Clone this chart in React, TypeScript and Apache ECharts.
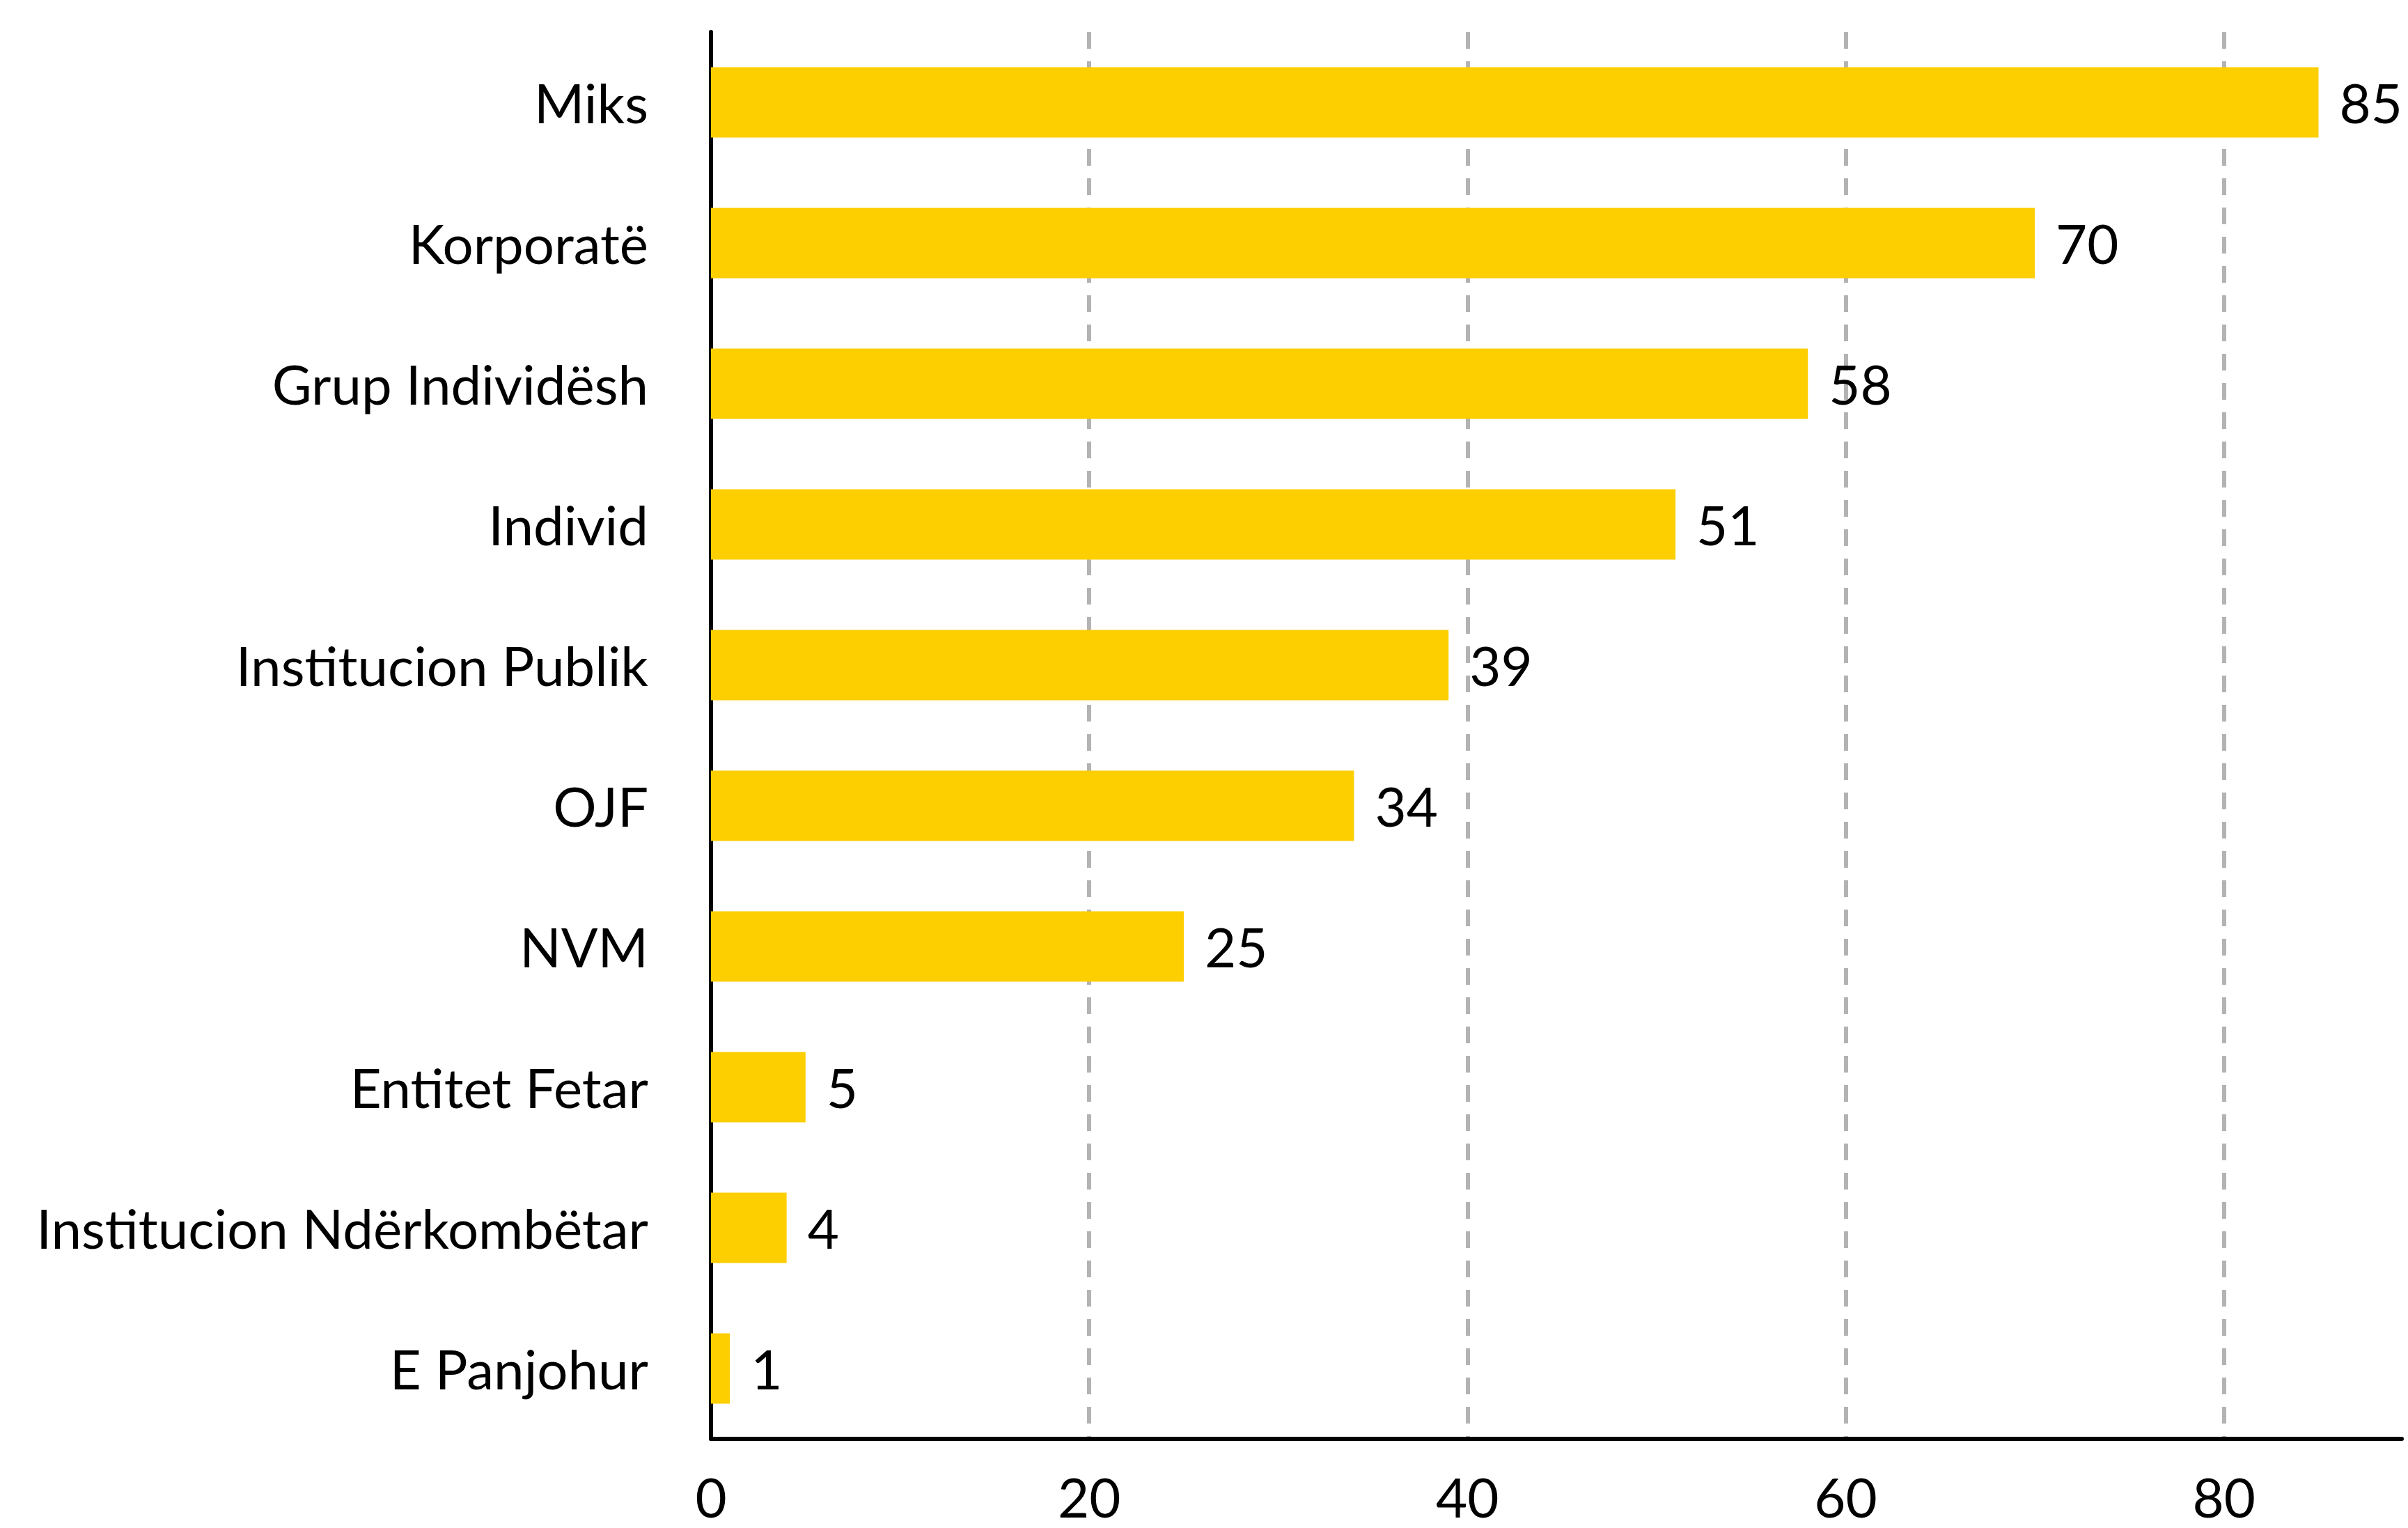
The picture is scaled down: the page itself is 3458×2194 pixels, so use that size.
import React, { useEffect, useRef } from "react";
import * as echarts from "echarts";

const categories = [
  "Miks",
  "Korporatë",
  "Grup Individësh",
  "Individ",
  "Institucion Publik",
  "OJF",
  "NVM",
  "Entitet Fetar",
  "Institucion Ndërkombëtar",
  "E Panjohur",
];
const values = [85, 70, 58, 51, 39, 34, 25, 5, 4, 1];
const xTicks = [0, 20, 40, 60, 80];
const xMax = 89.4;

export default function App() {
  const ref = useRef<HTMLDivElement>(null);
  useEffect(() => {
    document.body.style.margin = "0";
    const chart = echarts.init(ref.current!, null, { renderer: "svg" });
    chart.setOption({
      animation: false,
      backgroundColor: "#ffffff",
      textStyle: { fontFamily: "Lato" },
      grid: { left: 1021, right: 9, top: 46, bottom: 128, containLabel: false },
      xAxis: {
        type: "value",
        min: 0,
        max: xMax,
        interval: 20,
        axisLine: { show: true, onZero: false, lineStyle: { color: "#000", width: 6 } },
        axisTick: { show: false },
        axisLabel: {
          fontSize: 78,
          lineHeight: 78,
          color: "#000",
          fontFamily: "Lato",
          margin: 44,
          showMaxLabel: false,
          formatter: (v: number) => (xTicks.includes(v) ? String(v) : ""),
        },
        splitLine: {
          show: true,
          showMinLine: false,
          showMaxLine: false,
          lineStyle: { color: "#b3b3b3", width: 6, type: [24, 18] },
        },
      },
      yAxis: {
        type: "category",
        data: categories,
        inverse: true,
        axisLine: { show: true, lineStyle: { color: "#000", width: 6 } },
        axisTick: { show: false },
        axisLabel: { fontSize: 78, color: "#000", fontFamily: "Lato", margin: 90 },
        splitLine: { show: false },
      },
      series: [
        {
          type: "bar",
          data: values,
          barCategoryGap: "50%",
          itemStyle: { color: "#FDCE00" },
          label: {
            show: true,
            position: "right",
            distance: 30,
            fontSize: 78,
            color: "#000",
            fontFamily: "Lato",
          },
        },
      ],
    });
    return () => chart.dispose();
  }, []);
  return <div ref={ref} style={{ width: 3458, height: 2194 }} />;
}
